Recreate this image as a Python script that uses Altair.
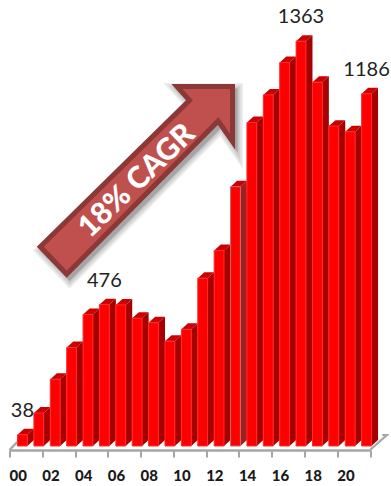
import altair as alt
import pandas as pd

# Annual values, 2000-2021
years = ["00", "01", "02", "03", "04", "05", "06", "07", "08", "09", "10",
         "11", "12", "13", "14", "15", "16", "17", "18", "19", "20", "21"]
values = [38, 111, 225, 332, 443, 476, 475, 430, 415, 353, 393,
          565, 658, 873, 1089, 1182, 1291, 1363, 1225, 1077, 1058, 1186]
labelled = {"00": "38", "05": "476", "17": "1363", "21": "1186"}
highlighted = "13"

# Pseudo-3D bar geometry, in slot units and value units
LEFT = 0.49      # gap between slot start and front face
WIDTH = 0.60     # front face width
DEPTH_X = 0.40   # receding offset, horizontally
DEPTH_Y = 20     # receding offset, vertically
FLOOR = -13.5    # value at which the floor's front edge sits

front, side, top, text = [], [], [], []
for i, (yr, v) in enumerate(zip(years, values)):
    xl, xr = i + LEFT, i + LEFT + WIDTH
    hl = yr == highlighted
    front.append(dict(yr=yr, x=xl, x2=xr, y=0, y2=v, hl=hl))
    side.append(dict(yr=yr, x=xr, y=v, y2=0, hl=hl))
    side.append(dict(yr=yr, x=xr + DEPTH_X, y=v + DEPTH_Y, y2=DEPTH_Y, hl=hl))
    top.append(dict(yr=yr, y=v, x=xl, x2=xr))
    top.append(dict(yr=yr, y=v + DEPTH_Y, x=xl + DEPTH_X, x2=xr + DEPTH_X))
    if yr in labelled:
        text.append(dict(x=(xl + xr) / 2, y=v, t=labelled[yr]))

front = pd.DataFrame(front)
side = pd.DataFrame(side)
top = pd.DataFrame(top)
text = pd.DataFrame(text)

x_scale = alt.Scale(domain=[0, 22], nice=False, zero=False)
y_scale = alt.Scale(domain=[FLOOR, 1501.5], nice=False, zero=False)

# The floor's front edge is the x axis; its labels sit under each even year's slot
x_axis = alt.Axis(
    values=list(range(0, 23, 2)), title=None, grid=False,
    domainColor="#a6a6a6", domainWidth=2.5, tickColor="#a6a6a6", tickWidth=2,
    tickSize=7, labelOffset=8.2, labelPadding=11, labelFont="Lato",
    labelFontSize=15, labelFontWeight=900, labelColor="#1a1a1a", labelAngle=0,
    labelFlush=False, labelOverlap=False,
    labelExpr="datum.value < 22 ? (datum.value < 10 ? '0' : '') + datum.value : ''")
X = alt.X("x:Q", scale=x_scale, axis=x_axis)
Y = alt.Y("y:Q", scale=y_scale, axis=None)

# Receding floor edges
floor_edges = pd.DataFrame({
    "edge": ["l", "l", "r", "r", "r"],
    "order": [0, 1, 0, 1, 2],
    "x": [0, 0.47, 22, 23.03, 22.75],
    "y": [FLOOR, 13, FLOOR, 37, 37],
})
floor = alt.Chart(floor_edges).mark_line(color="#a6a6a6", strokeWidth=2.2).encode(
    x=X, y=Y, detail="edge:N", order="order:Q")

side_layer = alt.Chart(side).mark_area(opacity=1).encode(
    x=X, y=Y, y2="y2:Q", detail="yr:N",
    color=alt.condition("datum.hl", alt.value("#a0201f"), alt.value("#a60000")))
top_layer = alt.Chart(top).mark_area(orient="horizontal", color="#cc0000").encode(
    x=alt.X("x:Q", scale=x_scale, axis=x_axis, stack=None), x2="x2:Q", y=Y, detail="yr:N")
front_layer = alt.Chart(front).mark_rect(strokeWidth=1).encode(
    x=X, x2="x2:Q", y=Y, y2="y2:Q",
    color=alt.value("#ff0000"),
    stroke=alt.condition("datum.hl", alt.value("#c26a6a"), alt.value("#ff2a2a")))

value_labels = alt.Chart(text).mark_text(
    font="Lato", fontSize=20, color="#222222",
    baseline="alphabetic", dy=-18).encode(x=X, y=Y, text="t:N")

# Growth arrow: outline given relative to the plot's origin, drawn as a custom symbol
ARROW = ("M40.3 246.7L66.7 274.2L218.2 121L232.5 141.6L232.5 86.5"
         "L177 86.5L189.5 100.3Z")
PAD_LEFT = 9.5
anchor = pd.DataFrame({"k": [0]})

def arrow(dx, dy, **kw):
    return alt.Chart(anchor).mark_point(shape=ARROW, size=4, strokeJoin="miter", strokeMiterLimit=10, **kw).encode(
        x=alt.value(-PAD_LEFT + dx), y=alt.value(dy))

shadow = [arrow(3, 4, filled=False, stroke="black", strokeWidth=w, opacity=0.06)
          for w in (15, 12, 9, 6)]
shadow.append(arrow(3, 4, filled=True, fill="#999999", stroke="#999999", strokeWidth=4, opacity=0.7))
body = arrow(0, 0, filled=True, fill="#c0504d", stroke="#8c3836", strokeWidth=5, opacity=1)
caption = alt.Chart(anchor).mark_text(
    text="18% CAGR", font="Lato", fontWeight=900, fontSize=30, color="white",
    angle=316, align="center", baseline="middle",
).encode(x=alt.value(137 - PAD_LEFT), y=alt.value(181))

chart = alt.layer(
    floor, side_layer, top_layer, front_layer, value_labels,
    *shadow, body, caption,
).properties(
    width=360.5, height=450,
    autosize=alt.AutoSizeParams(type="none"),
    padding={"left": PAD_LEFT, "top": 0, "right": 21, "bottom": 36},
    background="white",
).configure_view(stroke=None)

chart.save("out.html", embed_options={"renderer": "svg", "actions": False})
